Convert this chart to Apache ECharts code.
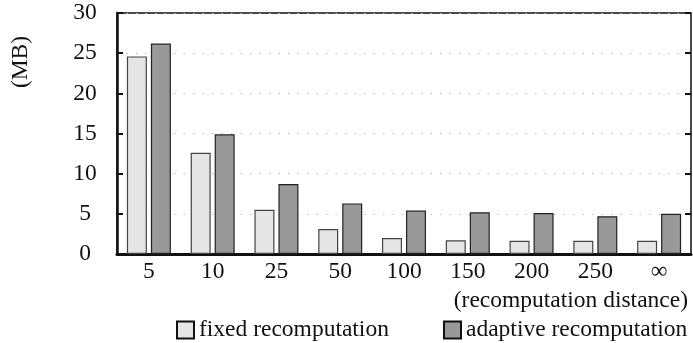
<!DOCTYPE html>
<html>
<head>
<meta charset="utf-8">
<script src="https://cdn.jsdelivr.net/npm/echarts@6/dist/echarts.min.js"></script>
<style>
  html, body { margin: 0; padding: 0; background: #fff; }
  #chart { width: 693px; height: 343px; }
</style>
</head>
<body>
<div id="chart"></div>
<script>
// Memory footprint per recomputation distance
const categories = ['5', '10', '25', '50', '100', '150', '200', '250', '\u221e'];
const fixedMB = [24.6, 12.6, 5.5, 3.1, 2.0, 1.7, 1.65, 1.65, 1.65];
const adaptiveMB = [26.2, 14.9, 8.7, 6.3, 5.4, 5.2, 5.1, 4.7, 5.0];
const yTicks = { min: 0, max: 30, interval: 5 };
const seriesNames = ['fixed recomputation', 'adaptive recomputation'];

const FONT = '"Liberation Serif", "DejaVu Serif", serif';
const FS = 23.5;
const chart = echarts.init(document.getElementById('chart'), null, { renderer: 'canvas' });

const yAxisBase = {
  type: 'value',
  min: yTicks.min, max: yTicks.max, interval: yTicks.interval,
  axisTick: { show: true, inside: true, length: 6, lineStyle: { color: '#111', width: 2 } },
  splitLine: { show: false }
};

const legendBase = {
  itemWidth: 17, itemHeight: 17, icon: 'rect', top: 313,
  itemStyle: { borderColor: '#111', borderWidth: 2 },
  textStyle: { fontFamily: FONT, fontSize: FS, color: '#111' }
};

chart.setOption({
  animation: false,
  textStyle: { fontFamily: FONT },
  grid: {
    left: 117, right: 2, top: 13, bottom: 89,
    show: true, borderColor: '#111', borderWidth: 1.5, backgroundColor: 'transparent'
  },
  title: {
    text: '(recomputation distance)',
    right: 0, top: 284,
    textStyle: { fontFamily: FONT, fontSize: FS, fontWeight: 'normal', color: '#111' }
  },
  legend: [
    Object.assign({ data: [seriesNames[0]], left: 171 }, legendBase),
    Object.assign({ data: [seriesNames[1]], left: 438 }, legendBase)
  ],
  xAxis: {
    type: 'category',
    data: categories,
    axisLine: { show: true, lineStyle: { color: '#111', width: 3 } },
    axisTick: { show: false },
    axisLabel: { fontFamily: FONT, fontSize: FS, color: '#111', margin: 6 }
  },
  yAxis: [
    Object.assign({}, yAxisBase, {
      position: 'left',
      axisLine: { show: true, lineStyle: { color: '#111', width: 2.5 } },
      axisLabel: { fontFamily: FONT, fontSize: FS, color: '#111', margin: 32, align: 'center' },
      splitLine: {
        show: true,
        lineStyle: { color: '#bbb', width: 1, type: [1.5, 8] }
      }
    }),
    Object.assign({}, yAxisBase, {
      position: 'right',
      axisLine: { show: false },
      axisLabel: { show: false }
    })
  ],
  graphic: [
    {
      type: 'text',
      x: 21, y: 62, rotation: Math.PI / 2,
      style: {
        text: '(MB)', fontFamily: FONT, fontSize: FS, fill: '#111',
        align: 'center', verticalAlign: 'middle'
      }
    }
  ],
  series: [
    {
      name: seriesNames[0], type: 'bar', data: fixedMB, yAxisIndex: 0,
      barWidth: 20, barGap: '20%',
      itemStyle: { color: '#e5e5e5', borderColor: '#444', borderWidth: 1.2 }
    },
    {
      name: seriesNames[1], type: 'bar', data: adaptiveMB, yAxisIndex: 0,
      barWidth: 20, barGap: '20%',
      itemStyle: { color: '#999999', borderColor: '#222', borderWidth: 1.2 }
    }
  ]
});
</script>
</body>
</html>
